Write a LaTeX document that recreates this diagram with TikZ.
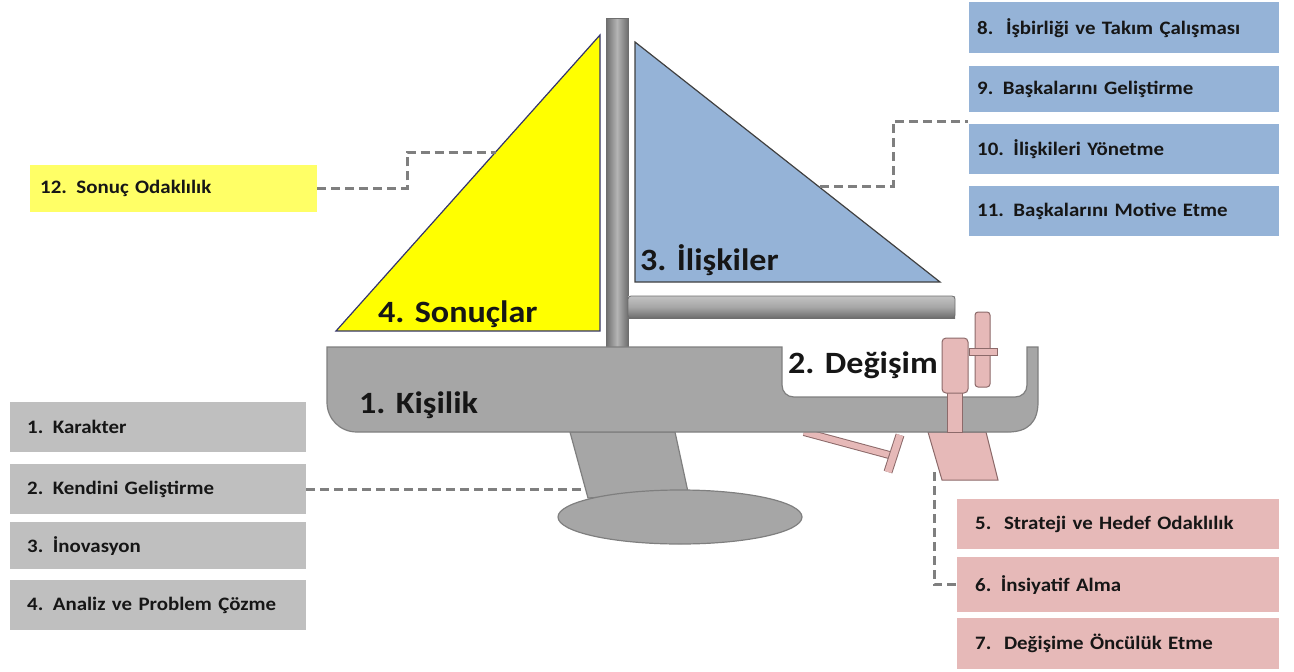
\documentclass[tikz,border=0pt]{standalone}
\usepackage{fontspec}
\setmainfont{Carlito}[FakeStretch=1.1]
\definecolor{boxgray}{HTML}{BFBFBF}
\definecolor{boxpink}{HTML}{E6B9B8}
\definecolor{boxblue}{HTML}{95B3D7}
\definecolor{boxyellow}{HTML}{FFFF66}
\definecolor{sailyellow}{HTML}{FFFF00}
\definecolor{hullgray}{HTML}{A6A6A6}
\definecolor{hulledge}{HTML}{7F7F7F}
\definecolor{linkgray}{HTML}{7F7F7F}
\definecolor{pinkedge}{HTML}{8C6A6A}
\definecolor{sailedge}{HTML}{34346E}
\definecolor{mastdark}{HTML}{6E6E6E}
\definecolor{mastlight}{HTML}{B4B4B4}
\definecolor{ink}{HTML}{161616}
\begin{document}
\begin{tikzpicture}[x=1pt,y=-1pt,
  box/.style={rectangle, anchor=north west, inner ysep=0pt, align=left,
    text=ink, font=\bfseries\fontsize{19}{22}\selectfont},
  graybox/.style={box, fill=boxgray, inner xsep=17pt, text width=262pt},
  pinkbox/.style={box, fill=boxpink, inner xsep=18pt, text width=286pt},
  bluebox/.style={box, fill=boxblue, inner xsep=8pt, text width=294pt},
  yellowbox/.style={box, fill=boxyellow, inner xsep=10pt, text width=267pt},
  title/.style={anchor=base west, inner sep=0pt, text=ink,
    font=\bfseries\fontsize{31}{36}\selectfont},
  link/.style={draw=linkgray, line width=3pt, dash pattern=on 9pt off 5pt},
  hullpart/.style={fill=hullgray, draw=hulledge, line width=1.2pt},
  rudderpart/.style={fill=boxpink, draw=pinkedge, line width=1pt},
  rudderbar/.style={draw=pinkedge, line width=1pt, double=boxpink, double distance=6pt}]
\useasboundingbox (0,0) rectangle (1294,672);

% keel and bulb
\draw[hullpart] (570,432) -- (675,432) -- (688,492) -- (588,498) -- cycle;
\draw[hullpart] (680,517) ellipse [x radius=122pt, y radius=27pt];

% propeller shaft and rudder blade under the hull
\draw[rudderbar] (804,432) -- (893,456);
\draw[rudderbar, double distance=7pt] (900,435) -- (888,472);
\draw[rudderpart] (928,432) -- (986,432) -- (998,480) -- (942,480) -- cycle;

% mast
\fill[left color=mastdark, right color=mastdark, middle color=mastlight]
  (606,18) rectangle (628,348);
\draw[mastdark, line width=0.8pt] (606,18) rectangle (628,348);

% boom
\fill[top color=mastlight!80!white, bottom color=mastdark, middle color=hullgray]
  (628,296) rectangle (955,318);
\draw[mastdark, line width=0.8pt, rounded corners=3pt] (628,296) rectangle (955,318);

% sails
\draw[fill=sailyellow, draw=sailedge, line width=1.2pt]
  (600,35) -- (600,331) -- (336,331) -- cycle;
\draw[fill=boxblue, draw=black!75, line width=1.2pt]
  (635,42) -- (940,282) -- (635,282) -- cycle;

% hull with the open stern well
\draw[hullpart]
  (327,347) -- (782,347) -- (782,385)
  .. controls (782,392) and (787,397) .. (794,397) -- (1015,397)
  .. controls (1022,397) and (1027,392) .. (1027,385) -- (1027,347)
  -- (1038,347) -- (1038,402)
  .. controls (1038,422) and (1028,432) .. (1008,432) -- (357,432)
  .. controls (340,432) and (327,419) .. (327,402) -- cycle;

% tiller and steering post
\draw[rudderpart] (947,392) rectangle (962,432);
\draw[rudderpart, rounded corners=4pt] (942,338) rectangle (968,393);
\draw[rudderpart, rounded corners=3pt] (975,312) rectangle (990,387);
\draw[rudderpart] (969,348) rectangle (997,355);

% section titles
\node[title] (tres) at (378,322) {4. Sonuçlar};
\node[title] (trel) at (640,270) {3. İlişkiler};
\node[title] (tper) at (359,413) {1. Kişilik};
\node[title] (tchg) at (788,373) {2. Değişim};

% competency boxes
\node[yellowbox, minimum height=47pt] (b12) at (30,165) {12. Sonuç Odaklılık};

\node[graybox, minimum height=50pt] (b1) at (10,402) {1. Karakter};
\node[graybox, minimum height=50pt] (b2) at (10,464) {2. Kendini Geliştirme};
\node[graybox, minimum height=47pt] (b3) at (10,522) {3. İnovasyon};
\node[graybox, minimum height=50pt] (b4) at (10,580) {4. Analiz ve Problem Çözme};

\node[pinkbox, minimum height=50pt] (b5) at (957,499) {5.~~Strateji ve Hedef Odaklılık};
\node[pinkbox, minimum height=55pt] (b6) at (957,557) {6. İnsiyatif Alma};
\node[pinkbox, minimum height=51pt] (b7) at (957,618) {7.~~Değişime Öncülük Etme};

\node[bluebox, minimum height=51pt] (b8) at (969,2) {8.~~İşbirliği ve Takım Çalışması};
\node[bluebox, minimum height=46pt] (b9) at (969,66) {9. Başkalarını Geliştirme};
\node[bluebox, minimum height=50pt] (b10) at (969,124) {10. İlişkileri Yönetme};
\node[bluebox, minimum height=50pt] (b11) at (969,186) {11. Başkalarını Motive Etme};

% connector end points on the drawing
\coordinate (ysail) at (496,152);
\coordinate (ybend) at (407,152);
\coordinate (bsail) at (820,186);
\coordinate (bbend) at (893,121);
\coordinate (bend) at (968,121);
\coordinate (keel) at (585,489);
\coordinate (blade) at (934,472);

% dashed connectors
\draw[link] (b12.east) -| (ybend) -- (ysail);
\draw[link] (bsail) -| (bbend) -- (bend);
\draw[link] (b2.east) -- (b2.east -| keel);
\draw[link] (blade) |- (b6.west);
\end{tikzpicture}
\end{document}
